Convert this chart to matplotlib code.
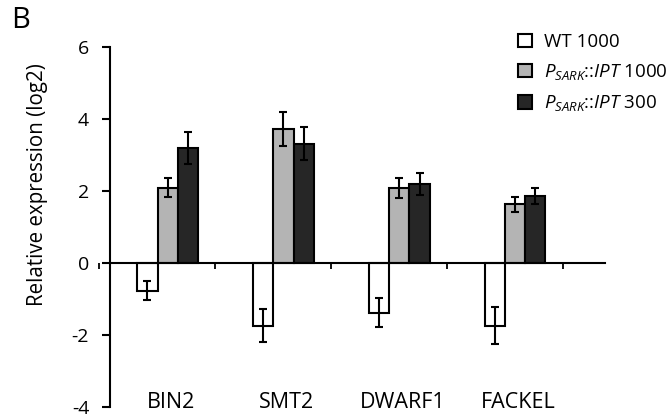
### Relative expression of BR biosynthesis genes (panel B)

import matplotlib
matplotlib.use('Agg')
import matplotlib.pyplot as pp
from matplotlib.patches import Patch
import numpy as np

# Data
genes = ['BIN2', 'SMT2', 'DWARF1', 'FACKEL']
wt1000 = [-0.77, -1.74, -1.38, -1.74]
wt1000_err = [0.26, 0.45, 0.41, 0.52]
ipt1000 = [2.09, 3.73, 2.08, 1.63]
ipt1000_err = [0.26, 0.47, 0.27, 0.21]
ipt300 = [3.19, 3.31, 2.19, 1.85]
ipt300_err = [0.44, 0.46, 0.30, 0.22]

labels = ['WT 1000', r'$P_{SARK}$::$IPT$ 1000', r'$P_{SARK}$::$IPT$ 300']
colors = ['white', '#b4b4b4', '#262626']
yticks = [-4, -2, 0, 2, 4, 6]

pp.rcParams['font.family'] = ['Open Sans', 'DejaVu Sans']
pp.rcParams['mathtext.fontset'] = 'custom'
pp.rcParams['mathtext.it'] = 'Open Sans:italic'
pp.rcParams['mathtext.rm'] = 'Open Sans'

fig = pp.figure(figsize=(6.71, 4.19), dpi=100)
ax = fig.add_axes([0.1429, 0.0286, 0.8146, 0.8592])

x = np.arange(len(genes))
w = 0.175
series = [(wt1000, wt1000_err), (ipt1000, ipt1000_err), (ipt300, ipt300_err)]
for i, (vals, errs) in enumerate(series):
    xpos = x + (i-1)*w
    ax.bar(xpos, vals, width=w, color=colors[i], edgecolor='black', linewidth=1.5, zorder=2)
    ax.errorbar(xpos, vals, yerr=errs, fmt='none', ecolor='black', elinewidth=1.5,
                capsize=3, capthick=1.5, zorder=3)

# Axes layout
ax.set_xlim(-0.62, 4.1)
ax.set_ylim(-4, 6)
ax.spines['top'].set_visible(False)
ax.spines['right'].set_visible(False)
ax.spines['left'].set_position(('data', -0.498))
ax.spines['bottom'].set_position(('data', 0))
ax.spines['bottom'].set_bounds(-0.498, 3.776)
ax.spines['left'].set_linewidth(1.5)
ax.spines['bottom'].set_linewidth(1.5)

ax.set_yticks(yticks)
ax.set_yticklabels([str(t) for t in yticks], fontsize=14)
ax.tick_params(axis='y', length=6, width=1.5, pad=9)
ax.set_xticks(np.arange(-1, 4) + 0.41)
ax.set_xticklabels([])
ax.tick_params(axis='x', length=4, width=1.3, direction='out')

for xi, g in zip(x, genes):
    ax.text(xi + 0.03, -3.88, g, ha='center', va='center', fontsize=15.5,
            transform=ax.transData, clip_on=False)

ax.set_ylabel('Relative expression (log2)', fontsize=14.8)
ax.yaxis.set_label_coords(-0.088, 0.617)

# Legend
handles = [Patch(facecolor=c, edgecolor='black', linewidth=1.5) for c in colors]
ax.legend(handles, labels, loc='upper left', bbox_to_anchor=(0.758, 1.06), frameon=False,
          fontsize=13.5, handlelength=0.75, handleheight=0.75, handletextpad=0.65,
          labelspacing=0.6, borderaxespad=0)

fig.text(0.017, 0.95, 'B', fontsize=21, va='center')

pp.savefig('out.png', dpi=100)
pp.close()
